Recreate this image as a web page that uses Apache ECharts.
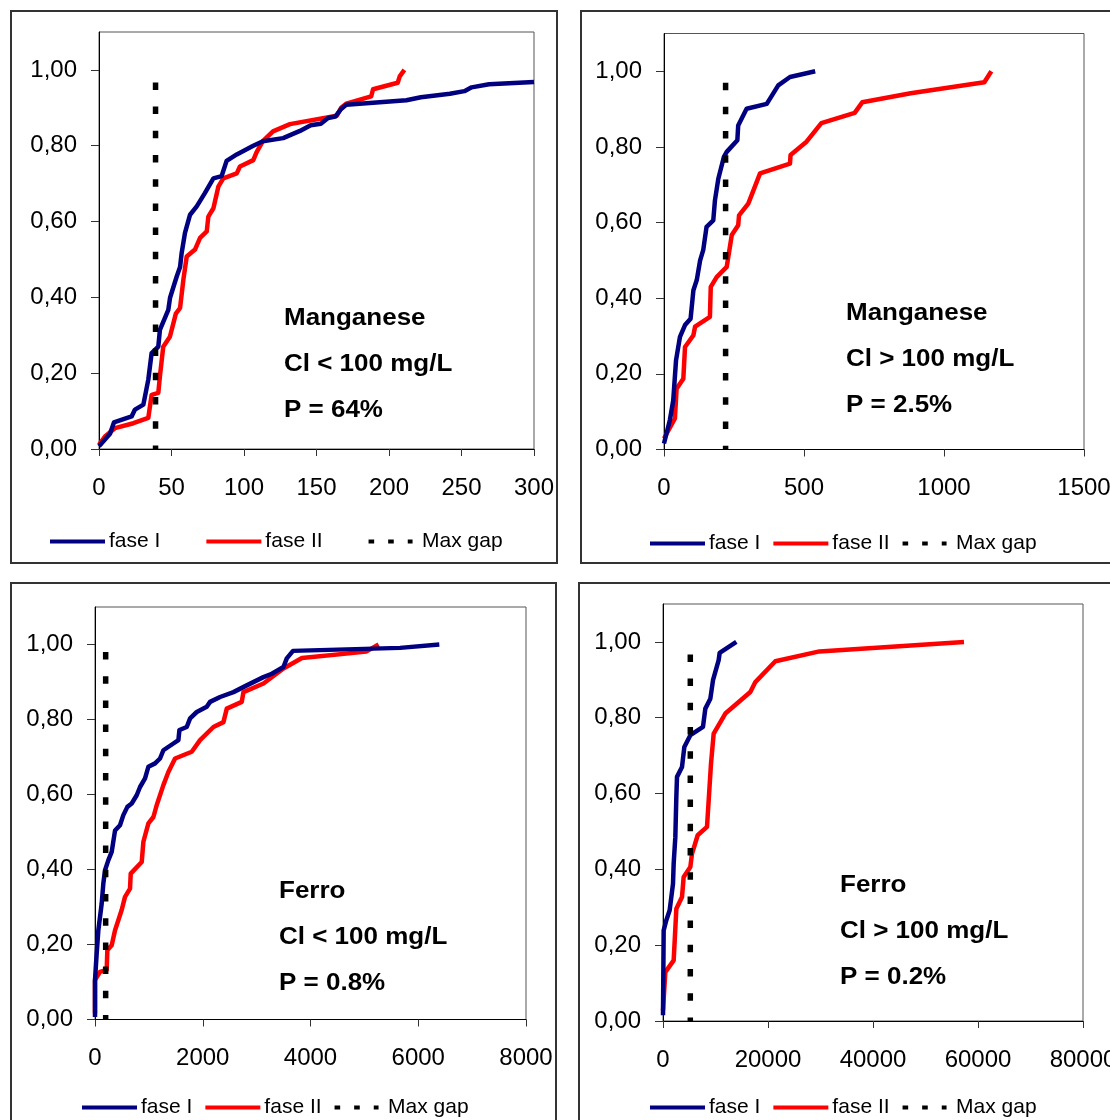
<!DOCTYPE html>
<html><head><meta charset="utf-8">
<script src="https://cdn.jsdelivr.net/npm/echarts@6/dist/echarts.min.js"></script>
<style>html,body{margin:0;padding:0;background:#fff}#c{width:1110px;height:1120px}</style>
</head><body><div id="c"></div><script>
// ---- data ----
const yTicks = [0, 0.2, 0.4, 0.6, 0.8, 1.0];
const xTicksMnLow = [0, 50, 100, 150, 200, 250, 300];
const xTicksMnHigh = [0, 500, 1000, 1500];
const xTicksFeLow = [0, 2000, 4000, 6000, 8000];
const xTicksFeHigh = [0, 20000, 40000, 60000, 80000];

const mnLowFaseI = [[0,0.007],[7.6,0.04],[10.3,0.07],[22.5,0.086],[24.8,0.104],[30.6,0.117],[34,0.183],[36.3,0.253],[40.9,0.27],[42,0.314],[47.8,0.367],[49,0.399],[53.6,0.455],[55.9,0.48],[57,0.517],[59.3,0.57],[62.8,0.618],[67.4,0.64],[73,0.675],[78.9,0.714],[84.6,0.72],[88,0.76],[95,0.777],[106.4,0.8],[113,0.812],[127,0.82],[138.6,0.839],[146,0.854],[153,0.858],[158,0.873],[163,0.877],[167,0.897],[170.5,0.908],[212,0.92],[222,0.928],[242,0.937],[252,0.944],[257,0.954],[269,0.962],[300,0.968]];
const mnLowFaseII = [[0,0.011],[4.1,0.033],[11,0.055],[23.7,0.068],[34,0.082],[36.3,0.143],[40.9,0.148],[42,0.191],[44.3,0.27],[48.9,0.296],[53,0.357],[55.9,0.372],[58.2,0.447],[60.5,0.508],[66.2,0.526],[69.7,0.557],[74.3,0.574],[75.4,0.613],[78.9,0.635],[82.3,0.692],[85.7,0.714],[95,0.727],[97.2,0.745],[106.4,0.762],[108.7,0.783],[113,0.812],[120,0.838],[131.7,0.857],[164,0.879],[167,0.9],[170.5,0.911],[187.7,0.93],[189,0.949],[206,0.966],[207.4,0.983],[210.6,1.0]];

const mnHighFaseI = [[0,0.016],[21,0.078],[33,0.13],[43,0.236],[57,0.298],[75,0.329],[95,0.346],[105,0.421],[117,0.448],[129,0.5],[140,0.527],[152,0.589],[176,0.606],[182,0.659],[194,0.716],[214,0.774],[224,0.787],[262,0.818],[265,0.857],[295,0.901],[367,0.914],[408,0.963],[450,0.985],[540,1.0]];
const mnHighFaseII = [[0,0.029],[39,0.082],[45,0.161],[69,0.187],[75,0.271],[105,0.302],[111,0.325],[164,0.351],[167,0.43],[188,0.456],[224,0.483],[242,0.567],[265,0.593],[268,0.619],[301,0.65],[343,0.73],[450,0.756],[452,0.779],[509,0.814],[562,0.863],[681,0.89],[708,0.918],[881,0.942],[1144,0.971],[1169,1.0]];

const feLowFaseI = [[0,0.007],[0,0.105],[31,0.176],[62,0.238],[124,0.309],[155,0.363],[186,0.398],[248,0.425],[310,0.447],[372,0.504],[464,0.518],[526,0.545],[601,0.567],[681,0.576],[774,0.598],[836,0.62],[929,0.643],[991,0.674],[1115,0.683],[1207,0.696],[1269,0.718],[1455,0.736],[1548,0.745],[1567,0.772],[1703,0.78],[1765,0.803],[1889,0.82],[2074,0.834],[2136,0.847],[2322,0.86],[2570,0.873],[2817,0.891],[3127,0.913],[3282,0.922],[3498,0.94],[3560,0.963],[3675,0.983],[5662,0.991],[6391,1.0]];
const feLowFaseII = [[0,0.016],[0,0.105],[93,0.127],[217,0.132],[229,0.185],[310,0.198],[372,0.238],[495,0.292],[557,0.327],[650,0.349],[663,0.389],[867,0.42],[898,0.474],[991,0.523],[1084,0.54],[1146,0.572],[1269,0.625],[1362,0.66],[1486,0.696],[1796,0.714],[1950,0.745],[2198,0.78],[2384,0.793],[2446,0.829],[2724,0.847],[2755,0.873],[3127,0.896],[3498,0.936],[3841,0.964],[5033,0.981],[5265,1.0]];

const feHighFaseI = [[0,0.015],[127,0.239],[635,0.266],[1270,0.292],[1905,0.362],[2032,0.415],[2349,0.485],[2540,0.591],[2667,0.644],[3619,0.67],[4063,0.723],[5206,0.754],[7619,0.776],[8063,0.824],[9016,0.85],[9524,0.899],[10603,0.952],[10794,0.971],[13968,1.0]];
const feHighFaseII = [[0,0.028],[444,0.129],[2032,0.16],[2540,0.296],[3619,0.327],[3936,0.38],[5206,0.406],[5524,0.441],[6603,0.49],[8381,0.512],[9143,0.679],[9651,0.758],[11873,0.811],[16635,0.868],[17587,0.894],[21397,0.949],[29800,0.975],[57333,1.0]];

const maxGapX = [39, 220, 198, 5200];
const maxGapTop = [0.967, 0.97, 0.98, 0.967];

const seriesNames = ['fase I', 'fase II', 'Max gap'];
const textMnLow = ['Manganese', 'Cl < 100 mg/L', 'P = 64%'];
const textMnHigh = ['Manganese', 'Cl > 100 mg/L', 'P = 2.5%'];
const textFeLow = ['Ferro', 'Cl < 100 mg/L', 'P = 0.8%'];
const textFeHigh = ['Ferro', 'Cl > 100 mg/L', 'P = 0.2%'];

// ---- layout ----
const FONT = '"Liberation Sans", Arial, Helvetica, sans-serif';
const COLORS = ['#000080', '#FF0000', '#000000'];
const panels = [
  {grid:{left:99, top:32, width:435, height:417}, ticks:xTicksMnLow, fI:mnLowFaseI, fII:mnLowFaseII, text:textMnLow, tx:284, ty:[319,365,411], leg:{left:50, top:531, gap:46}, box:[11,11,546,552]},
  {grid:{left:664, top:33.5, width:420, height:416}, ticks:xTicksMnHigh, fI:mnHighFaseI, fII:mnHighFaseII, text:textMnHigh, tx:846, ty:[314,360,406], leg:{left:650, top:533, gap:13}, box:[581,11,600,552]},
  {grid:{left:95, top:607, width:431, height:412.5}, ticks:xTicksFeLow, fI:feLowFaseI, fII:feLowFaseII, text:textFeLow, tx:279, ty:[892,938,984], leg:{left:82, top:1097, gap:13}, box:[11,583,545,600]},
  {grid:{left:663, top:604, width:420, height:417}, ticks:xTicksFeHigh, fI:feHighFaseI, fII:feHighFaseII, text:textFeHigh, tx:840, ty:[886,932,978], leg:{left:650, top:1097, gap:13}, box:[579,583,600,600]}
];

const dashIcon = 'path://M0,0h7v5h-7zM24.5,0h7v5h-7zM49,0h6v5h-6z';

const grid = [], xAxis = [], yAxis = [], series = [], legend = [], graphic = [];
panels.forEach((p, i) => {
  grid.push(Object.assign({show:true, borderColor:'#555', borderWidth:1, backgroundColor:'#fff', containLabel:false, outerBoundsMode:'none'}, p.grid));
  const tk = p.ticks;
  xAxis.push({type:'value', gridIndex:i, min:tk[0], max:tk[tk.length-1], interval:tk[1]-tk[0],
    axisLine:{show:true, onZero:false, lineStyle:{color:'#000', width:1}},
    axisTick:{show:true, length:7, lineStyle:{color:'#333'}},
    axisLabel:{fontSize:24, fontFamily:FONT, color:'#000', margin:27, formatter: v => String(v), hideOverlap:false},
    splitLine:{show:false}});
  yAxis.push({type:'value', gridIndex:i, min:0, max:1.1,
    axisLine:{show:true, onZero:false, lineStyle:{color:'#000', width:1}},
    axisTick:{show:true, length:8, customValues:yTicks, lineStyle:{color:'#333'}},
    axisLabel:{fontSize:24, fontFamily:FONT, color:'#000', margin:22, customValues:yTicks,
      formatter: v => v.toFixed(2).replace('.', ',')},
    splitLine:{show:false}});
  series.push({name:seriesNames[0], type:'line', xAxisIndex:i, yAxisIndex:i, data:p.fI, symbol:'none', color:COLORS[0],
    lineStyle:{width:4.5, color:COLORS[0], join:'round'}, z:3});
  series.push({name:seriesNames[1], type:'line', xAxisIndex:i, yAxisIndex:i, data:p.fII, symbol:'none', color:COLORS[1],
    lineStyle:{width:4.5, color:COLORS[1], join:'round'}, z:2});
  series.push({name:seriesNames[2], type:'line', xAxisIndex:i, yAxisIndex:i,
    data:[[maxGapX[i], maxGapTop[i]], [maxGapX[i], 0]], symbol:'none', color:COLORS[2],
    lineStyle:{width:5.5, color:COLORS[2], type:[7.5, 16.7], cap:'butt'}, z:4});
  legend.push({left:p.leg.left, top:p.leg.top, orient:'horizontal', itemGap:p.leg.gap, padding:0,
    itemWidth:55, itemHeight:4, selectedMode:false, itemStyle:{borderWidth:0},
    textStyle:{fontSize:21, fontFamily:FONT, color:'#000', padding:[0,0,0,-1]},
    data:[{name:seriesNames[0], icon:'rect'}, {name:seriesNames[1], icon:'rect'}, {name:seriesNames[2], icon:dashIcon}]});
  graphic.push({type:'rect', shape:{x:p.box[0], y:p.box[1], width:p.box[2], height:p.box[3]},
    style:{fill:'none', stroke:'#333', lineWidth:2}, z:100, silent:true});
  p.text.forEach((t, k) => {
    graphic.push({type:'text', x:p.tx, y:p.ty[k], scaleX:1.13, z:100, silent:true,
      style:{text:t, font:'bold 23px ' + FONT, fill:'#000', verticalAlign:'middle', align:'left'}});
  });
});

const chart = echarts.init(document.getElementById('c'), null, {renderer:'canvas'});
chart.setOption({animation:false, backgroundColor:'#fff', grid, xAxis, yAxis, series, legend, graphic});
</script></body></html>
